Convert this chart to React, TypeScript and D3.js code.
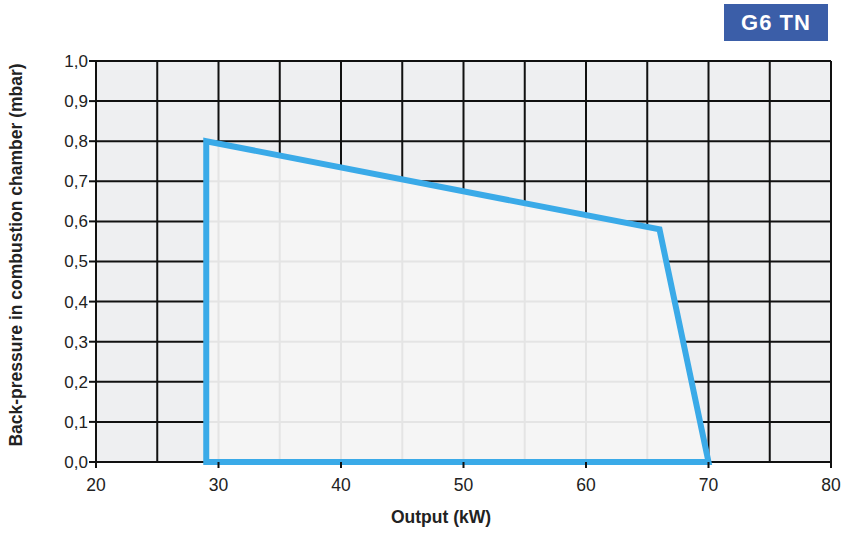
import React from 'react';
import * as d3 from 'd3';

// operating field of the burner: output (kW) vs back-pressure (mbar)
const fieldOutput = [29, 66, 70, 29];
const fieldPressure = [0.8, 0.58, 0, 0];

const xTicks = [20, 30, 40, 50, 60, 70, 80];
const yTicks = [0, 0.1, 0.2, 0.3, 0.4, 0.5, 0.6, 0.7, 0.8, 0.9, 1.0];
const xGrid = [20, 25, 30, 35, 40, 45, 50, 55, 60, 65, 70, 75, 80];

const modelLabel = 'G6 TN';

export default function App() {
    const width = 863;
    const height = 543;
    const margin = { top: 61, right: 32, bottom: 81, left: 96 };

    const x = d3.scaleLinear().domain([20, 80]).range([margin.left, width - margin.right]);
    const y = d3.scaleLinear().domain([0, 1]).range([height - margin.bottom, margin.top]);

    const pts = fieldOutput.map((v, i) => [x(v), y(fieldPressure[i])] as [number, number]);
    const area = d3.line()(pts) + 'Z';

    const font = 'Liberation Sans, Arial, Helvetica, sans-serif';

    return (
        <svg width={width} height={height} style={{ position: 'absolute', left: 0, top: 0 }}>
            <defs>
                <clipPath id="field">
                    <path d={area} />
                </clipPath>
            </defs>
            <rect x={0} y={0} width={width} height={height} fill="#fff" />
            {/* plot background + black grid */}
            <rect x={x(20)} y={y(1)} width={x(80) - x(20)} height={y(0) - y(1)} fill="#eeeff1" />
            {xGrid.map(v => (
                <line key={'gx' + v} x1={x(v)} x2={x(v)} y1={y(0)} y2={y(1)} stroke="#111" strokeWidth={2} />
            ))}
            {yTicks.map(v => (
                <line key={'gy' + v} x1={x(20)} x2={x(80)} y1={y(v)} y2={y(v)} stroke="#111" strokeWidth={2} />
            ))}
            {/* operating field */}
            <path d={area} fill="#f5f5f5" />
            <g clipPath="url(#field)">
                {xGrid.map(v => (
                    <line key={'fx' + v} x1={x(v)} x2={x(v)} y1={y(0)} y2={y(1)} stroke="#e4e4e4" strokeWidth={2} />
                ))}
                {yTicks.map(v => (
                    <line key={'fy' + v} x1={x(20)} x2={x(80)} y1={y(v)} y2={y(v)} stroke="#e4e4e4" strokeWidth={2} />
                ))}
            </g>
            <path d={area} fill="none" stroke="#3aaae8" strokeWidth={6} strokeLinejoin="miter" />

            {/* axes ticks and labels */}
            {yTicks.map(v => (
                <g key={'ty' + v}>
                    <line x1={x(20) - 7} x2={x(20)} y1={y(v)} y2={y(v)} stroke="#111" strokeWidth={2} />
                    <text x={x(20) - 8} y={y(v)} dy="0.35em" textAnchor="end" fontFamily={font} fontSize={17} fill="#222">
                        {v.toFixed(1).replace('.', ',')}
                    </text>
                </g>
            ))}
            {xTicks.map(v => (
                <g key={'tx' + v}>
                    <line x1={x(v)} x2={x(v)} y1={y(0)} y2={y(0) + 6} stroke="#111" strokeWidth={2} />
                    <text x={x(v)} y={y(0) + 29} textAnchor="middle" fontFamily={font} fontSize={17.5} fill="#222">
                        {v}
                    </text>
                </g>
            ))}
            <text x={441} y={523} textAnchor="middle" fontFamily={font} fontSize={17.5} fontWeight="bold" fill="#222">
                Output (kW)
            </text>
            <text transform={`translate(22,255) rotate(-90)`} textAnchor="middle" fontFamily={font} fontSize={17.5} fontWeight="bold" fill="#222">
                Back-pressure in combustion chamber (mbar)
            </text>

            {/* model badge */}
            <rect x={724} y={4} width={104} height={37} fill="#3b5ea8" />
            <text x={776} y={30} textAnchor="middle" fontFamily={font} fontSize={22} fontWeight={900} letterSpacing={1} fill="#fff">
                {modelLabel}
            </text>
        </svg>
    );
}
